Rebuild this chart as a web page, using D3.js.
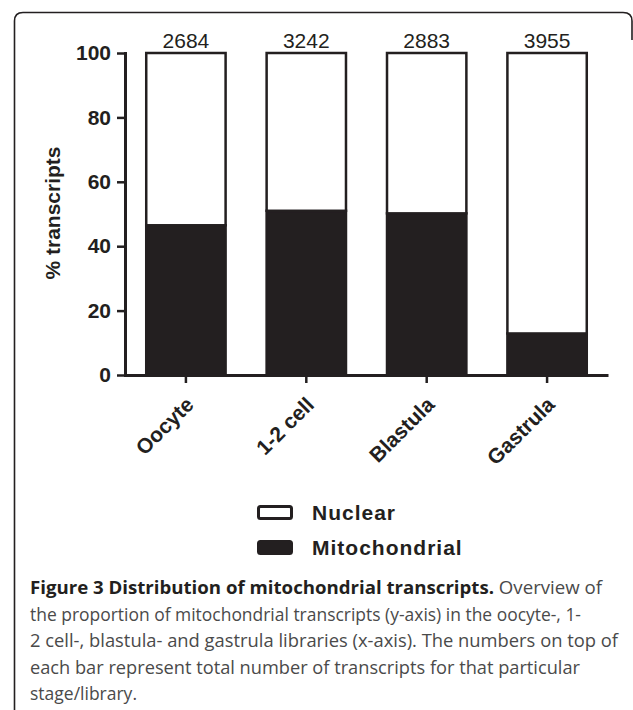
<!DOCTYPE html>
<html>
<head>
<meta charset="utf-8">
<script src="https://cdn.jsdelivr.net/npm/d3@7"></script>
<style>
  html, body { margin: 0; padding: 0; background: #fff; }
  svg { display: block; }
</style>
</head>
<body>
<div id="chart"></div>
<script>
// values
const stages = ["Oocyte", "1-2 cell", "Blastula", "Gastrula"];
const mitochondrial = [46.5, 51.0, 50.2, 12.9];
const nuclear = [53.5, 49.0, 49.8, 87.1];
const totals = [2684, 3242, 2883, 3955];
const seriesNames = ["Nuclear", "Mitochondrial"];
const yTicks = [0, 20, 40, 60, 80, 100];
const yTitle = "% transcripts";
const captionBold = "Figure 3 Distribution of mitochondrial transcripts.";
const captionLines = [
  " Overview of",
  "the proportion of mitochondrial transcripts (y-axis) in the oocyte-, 1-",
  "2 cell-, blastula- and gastrula libraries (x-axis). The numbers on top of",
  "each bar represent total number of transcripts for that particular",
  "stage/library."
];

const W = 633, H = 710;
const ink = "#231f20";
const fillColor = { Nuclear: "#ffffff", Mitochondrial: ink };

const svg = d3.select("#chart").append("svg")
  .attr("width", W)
  .attr("height", H);

// frame round the figure
svg.append("path")
  .attr("d", "M14.5,712 L14.5,21 Q14.5,12.5 23,12.5 L623,12.5 Q632,12.5 632,21 L632,40")
  .attr("fill", "none")
  .attr("stroke", ink)
  .attr("stroke-width", 1.6);

const x = d3.scaleBand()
  .domain(stages)
  .range([125, 608])
  .paddingInner(0.32)
  .paddingOuter(0.166);

const y = d3.scaleLinear()
  .domain([0, 100])
  .range([375, 53]);

const table = stages.map((s, i) => ({
  stage: s, Mitochondrial: mitochondrial[i], Nuclear: nuclear[i], total: totals[i]
}));

const stack = d3.stack().keys(["Mitochondrial", "Nuclear"]);
const layers = stack(table);

const bars = svg.append("g").attr("id", "bars");

bars.selectAll("g")
  .data(layers)
  .enter()
  .append("g")
  .attr("fill", d => fillColor[d.key])
  .selectAll("rect")
  .data(d => d)
  .enter()
  .append("rect")
  .attr("x", d => x(d.data.stage) + 1.25)
  .attr("width", x.bandwidth() - 2.5)
  .attr("y", d => y(d[1]))
  .attr("height", d => y(d[0]) - y(d[1]))
  .attr("stroke", ink)
  .attr("stroke-width", 2.5);

// totals above bars
svg.append("g")
  .selectAll("text")
  .data(table)
  .enter()
  .append("text")
  .attr("x", d => x(d.stage) + x.bandwidth() / 2)
  .attr("y", 47.5)
  .attr("text-anchor", "middle")
  .attr("font-family", "Liberation Sans, Arial, sans-serif")
  .attr("font-size", 21)
  .attr("fill", ink)
  .text(d => d.total);

// y axis
const yAxis = svg.append("g")
  .attr("transform", "translate(125,0)")
  .call(d3.axisLeft(y).tickValues(yTicks).tickSize(8).tickSizeOuter(0).tickPadding(6));

yAxis.select(".domain")
  .attr("stroke", ink)
  .attr("stroke-width", 3)
  .attr("stroke-linecap", "square");
yAxis.selectAll(".tick line")
  .attr("stroke", ink)
  .attr("stroke-width", 2.5);
yAxis.selectAll(".tick text")
  .attr("font-family", "Liberation Sans, Arial, sans-serif")
  .attr("font-weight", "bold")
  .attr("font-size", 21)
  .attr("fill", ink);

// x axis
const xAxis = svg.append("g")
  .attr("transform", "translate(0,375)")
  .call(d3.axisBottom(x).tickSize(8).tickSizeOuter(0).tickFormat(""));

xAxis.select(".domain")
  .attr("stroke", ink)
  .attr("stroke-width", 3);
xAxis.selectAll(".tick line")
  .attr("stroke", ink)
  .attr("stroke-width", 2.5);

xAxis.selectAll(".tick")
  .append("text")
  .attr("text-anchor", "end")
  .attr("transform", "translate(9,31) rotate(-45)")
  .attr("font-family", "Liberation Sans, Arial, sans-serif")
  .attr("font-weight", "bold")
  .attr("font-size", 21)
  .attr("fill", ink)
  .text(d => d);

// y axis title
svg.append("text")
  .attr("transform", "translate(60,213) rotate(-90)")
  .attr("text-anchor", "middle")
  .attr("font-family", "Liberation Sans, Arial, sans-serif")
  .attr("font-weight", "bold")
  .attr("font-size", 21)
  .attr("fill", ink)
  .text(yTitle);

// legend
const legend = svg.append("g").attr("id", "legend");
const legendRow = legend.selectAll("g")
  .data(seriesNames)
  .enter()
  .append("g")
  .attr("transform", (d, i) => `translate(257,${505 + i * 35})`);

legendRow.append("rect")
  .attr("x", 1.5)
  .attr("y", 1.5)
  .attr("width", 33)
  .attr("height", 12)
  .attr("rx", 2)
  .attr("fill", d => fillColor[d])
  .attr("stroke", ink)
  .attr("stroke-width", 3);

legendRow.append("text")
  .attr("x", 55)
  .attr("y", 15)
  .attr("font-family", "Liberation Sans, Arial, sans-serif")
  .attr("font-weight", "bold")
  .attr("font-size", 21)
  .attr("letter-spacing", 1)
  .attr("fill", ink)
  .text(d => d);

// caption
const caption = svg.append("g")
  .attr("font-family", "Open Sans, Noto Sans, sans-serif")
  .attr("font-size", 18.5);

const first = caption.append("text")
  .attr("x", 30)
  .attr("y", 594)
  .attr("textLength", 572)
  .attr("lengthAdjust", "spacingAndGlyphs");
first.append("tspan")
  .attr("font-weight", "bold")
  .attr("fill", ink)
  .text(captionBold);
first.append("tspan")
  .attr("fill", "#4a4a4a")
  .text(captionLines[0]);

const lineWidths = [551, 588, 550, 107];
caption.selectAll("text.line")
  .data(captionLines.slice(1))
  .enter()
  .append("text")
  .attr("class", "line")
  .attr("x", 30)
  .attr("y", (d, i) => 621 + i * 26.3)
  .attr("fill", "#4a4a4a")
  .attr("textLength", (d, i) => lineWidths[i])
  .attr("lengthAdjust", "spacingAndGlyphs")
  .text(d => d);
</script>
</body>
</html>
